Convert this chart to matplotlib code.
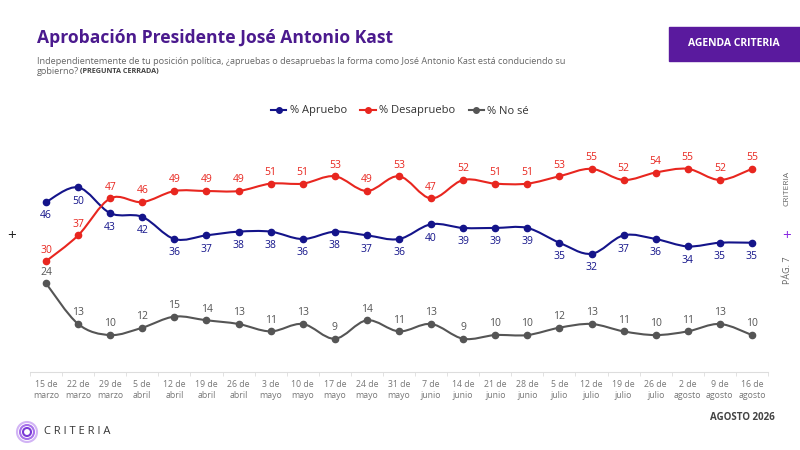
import numpy as np
import matplotlib
matplotlib.use("Agg")
import matplotlib.pyplot as plt
from matplotlib.path import Path
from matplotlib.patches import PathPatch, Rectangle, Circle

plt.rcParams['font.family'] = ['Open Sans', 'DejaVu Sans']

fechas = ["15 de\nmarzo", "22 de\nmarzo", "29 de\nmarzo", "5 de\nabril", "12 de\nabril",
          "19 de\nabril", "26 de\nabril", "3 de\nmayo", "10 de\nmayo", "17 de\nmayo",
          "24 de\nmayo", "31 de\nmayo", "7 de\njunio", "14 de\njunio", "21 de\njunio",
          "28 de\njunio", "5 de\njulio", "12 de\njulio", "19 de\njulio", "26 de\njulio",
          "2 de\nagosto", "9 de\nagosto", "16 de\nagosto"]
apruebo = [46, 50, 43, 42, 36, 37, 38, 38, 36, 38, 37, 36, 40, 39, 39, 39, 35, 32, 37, 36, 34, 35, 35]
desaprueba = [30, 37, 47, 46, 49, 49, 49, 51, 51, 53, 49, 53, 47, 52, 51, 51, 53, 55, 52, 54, 55, 52, 55]
no_se = [24, 13, 10, 12, 15, 14, 13, 11, 13, 9, 14, 11, 13, 9, 10, 10, 12, 13, 11, 10, 11, 13, 10]

AZUL = '#14148a'
ROJO = '#e8261f'
GRIS = '#555555'
MORADO = '#4b1a8e'


def smooth_path(xs, ys):
    # catmull-rom segments as cubic bezier (drawing only)
    pts = np.column_stack([xs, ys]).astype(float)
    p = np.vstack([pts[0], pts, pts[-1]])
    verts = [pts[0]]
    codes = [Path.MOVETO]
    for i in range(1, len(p) - 2):
        c1 = p[i] + (p[i + 1] - p[i - 1]) / 6.0
        c2 = p[i + 1] - (p[i + 2] - p[i]) / 6.0
        verts += [c1, c2, p[i + 1]]
        codes += [Path.CURVE4] * 3
    return Path(verts, codes)


fig = plt.figure(figsize=(8, 4.5), dpi=100)
ax = fig.add_axes([30 / 800, 1 - 372 / 450, 738 / 800, 229 / 450])
x = np.arange(len(fechas))

series = [(apruebo, AZUL, '% Apruebo', -10), (desaprueba, ROJO, '% Desapruebo', 8), (no_se, GRIS, '% No sé', 8)]
for vals, col, name, off in series:
    ax.add_patch(PathPatch(smooth_path(x, vals), fill=False, edgecolor=col, lw=1.5, zorder=2))
    ax.plot(x, vals, 'o', color=col, ms=4.5, zorder=3)
    for xi, v in zip(x, vals):
        ax.annotate(str(v), (xi, v), xytext=(0, off), textcoords='offset points',
                    ha='center', va='center', fontsize=7.5, color=col)
    ax.plot([], [], '-o', color=col, ms=4, lw=1.5, label=name)

ax.set_xlim(-0.5, len(fechas) - 0.5)
ax.set_ylim(0, 62)
ax.set_yticks([])
ax.set_xticks(x)
ax.set_xticklabels(fechas, fontsize=6.3, color='#777777', linespacing=1.3)
ax.set_xticks(np.arange(-0.5, len(fechas)), minor=True)
ax.tick_params(axis='x', which='major', length=0, pad=6)
ax.tick_params(axis='x', which='minor', length=3, color='#dddddd')
for s in ['top', 'left', 'right']:
    ax.spines[s].set_visible(False)
ax.spines['bottom'].set_color('#dddddd')

leg = fig.legend(loc='center', bbox_to_anchor=(0.5, 1 - 111 / 450), ncol=3, frameon=False,
                 fontsize=8, handlelength=1.4, columnspacing=1.2, handletextpad=0.3)
for t in leg.get_texts():
    t.set_color('#333333')

fig.text(37 / 800, 1 - 38 / 450, 'Aprobación Presidente José Antonio Kast', fontsize=12.6,
         fontweight='bold', color=MORADO, va='center')
fig.text(37 / 800, 1 - 62 / 450,
         'Independientemente de tu posición política, ¿apruebas o desapruebas la forma como José Antonio Kast está conduciendo su',
         fontsize=6.6, color='#666666', va='center')
fig.text(37 / 800, 1 - 72 / 450, 'gobierno?', fontsize=6.6, color='#666666', va='center')
fig.text(80 / 800, 1 - 72 / 450, '(PREGUNTA CERRADA)', fontsize=5.2, color='#444444',
         fontweight='bold', va='center')

fig.patches.append(Rectangle((669 / 800, 1 - 61 / 450), 131 / 800, 34 / 450,
                             transform=fig.transFigure, color='#5a1a9e', zorder=1))
fig.text(734 / 800, 1 - 44 / 450, 'AGENDA CRITERIA', fontsize=7.5, fontweight='bold',
         color='white', ha='center', va='center')

fig.text(12 / 800, 1 - 236 / 450, '+', fontsize=11, color='#222222', ha='center', va='center')
fig.text(787 / 800, 1 - 188 / 450, 'CRITERIA', fontsize=6, color='#666666', rotation=90,
         ha='center', va='center')
fig.text(787 / 800, 1 - 236 / 450, '+', fontsize=11, color='#8a2be2', ha='center', va='center')
fig.text(787 / 800, 1 - 270 / 450, 'PÁG. 7', fontsize=6.5, color='#666666', rotation=90,
         ha='center', va='center')

fig.text(775 / 800, 1 - 418 / 450, 'AGOSTO 2026', fontsize=7, fontweight='bold',
         color='#444444', ha='right', va='center')

# logo
lax = fig.add_axes([15 / 800, 1 - 444 / 450, 24 / 800, 24 / 450])
lax.set_xlim(-12, 12)
lax.set_ylim(-12, 12)
lax.axis('off')
for r, c in [(10, '#d2b4f5'), (7, '#a772ea'), (4, '#7a3ad6')]:
    lax.add_patch(Circle((0, 0), r, fill=False, edgecolor=c, lw=1.5))
fig.text(44 / 800, 1 - 432 / 450, 'C R I T E R I A', fontsize=8, color='#333333', va='center')

fig.savefig('out.png', dpi=100)
